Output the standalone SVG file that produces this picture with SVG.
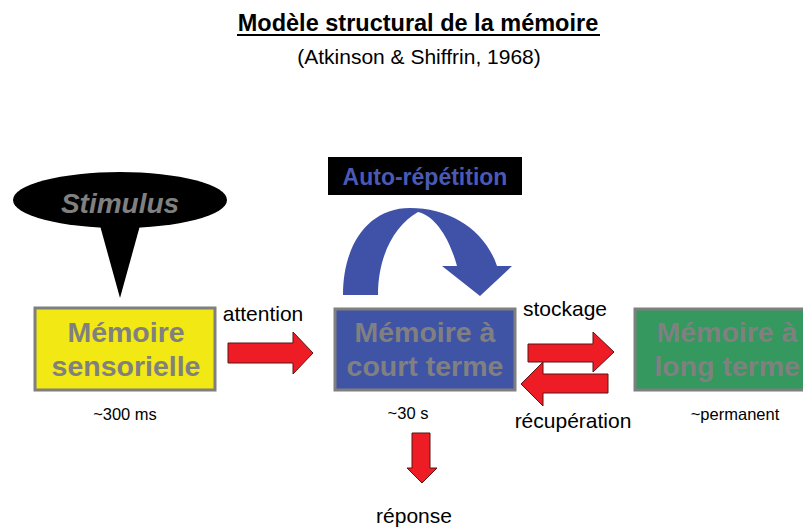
<svg xmlns="http://www.w3.org/2000/svg" width="803" height="527" viewBox="0 0 803 527">
<style>
text{font-family:"Liberation Sans",Arial,sans-serif}
.t{fill:#000;font-size:21px}
.s{fill:#000;font-size:16.5px}
.box{stroke:#7f7f7f;stroke-width:3}
.bt{fill:#808080;font-size:28.5px;font-weight:bold;text-anchor:middle}
.red{fill:#ee1c25;stroke:#5a1414;stroke-width:1}
</style>
<rect width="803" height="527" fill="#fff"/>
<g id="title">
<text x="418" y="31" font-size="23.5" font-weight="bold" text-anchor="middle">Modèle structural de la mémoire</text>
<rect x="237" y="34" width="363" height="2" fill="#000"/>
<text x="419" y="64" font-size="21" text-anchor="middle">(Atkinson &amp; Shiffrin, 1968)</text>
</g>
<g id="stimulus">
<ellipse cx="120" cy="200" rx="107" ry="28" fill="#000"/>
<polygon points="99,222 141,222 120,298" fill="#000"/>
<text x="120" y="213" font-size="28" font-weight="bold" font-style="italic" fill="#808080" text-anchor="middle">Stimulus</text>
</g>
<g id="auto-repetition">
<rect x="328" y="157" width="194" height="38" fill="#000"/>
<text x="425" y="185" font-size="23" font-weight="bold" fill="#4a5ab4" text-anchor="middle">Auto-répétition</text>
<path d="M343,295 C343,245 368,208 410,208 C450,208 485,230 497,266 L512,266 L480,296 L442,266 L457,266 C450,240 436,216 418,212 C395,225 378,255 378,295 Z" fill="#3f52a8"/>
</g>
<g id="sensorielle">
<rect class="box" x="35" y="308" width="180" height="82" fill="#f1e814"/>
<text class="bt" x="126" y="342">Mémoire</text>
<text class="bt" x="126" y="376">sensorielle</text>
<text class="s" x="125" y="420" text-anchor="middle">~300 ms</text>
</g>
<g id="court-terme">
<rect class="box" x="335" y="309" width="180" height="81" fill="#4054a6"/>
<text class="bt" x="425" y="342">Mémoire à</text>
<text class="bt" x="425" y="376">court terme</text>
<text class="s" x="408" y="419" text-anchor="middle">~30 s</text>
</g>
<g id="long-terme">
<rect class="box" x="635" y="309" width="185" height="81" fill="#34985f"/>
<text class="bt" x="727" y="342">Mémoire à</text>
<text class="bt" x="727" y="376">long terme</text>
<text class="s" x="735" y="420" text-anchor="middle">~permanent</text>
</g>
<g id="connectors">
<polygon class="red" points="228,343 293,343 293,332 313,353 293,374 293,363 228,363"/>
<text class="t" x="263" y="321" text-anchor="middle">attention</text>
<polygon class="red" points="528,344 593,344 593,332 614,352 593,372 593,362 528,362"/>
<polygon class="red" points="608,374 543,374 543,362 521,384 543,406 543,393 608,393"/>
<text class="t" x="565" y="316" text-anchor="middle">stockage</text>
<text class="t" x="573" y="428" text-anchor="middle">récupération</text>
<polygon class="red" points="412,433 430,433 430,468 437,468 422,483 407,468 412,468"/>
<text class="t" x="414" y="523" text-anchor="middle">réponse</text>
</g>
</svg>
